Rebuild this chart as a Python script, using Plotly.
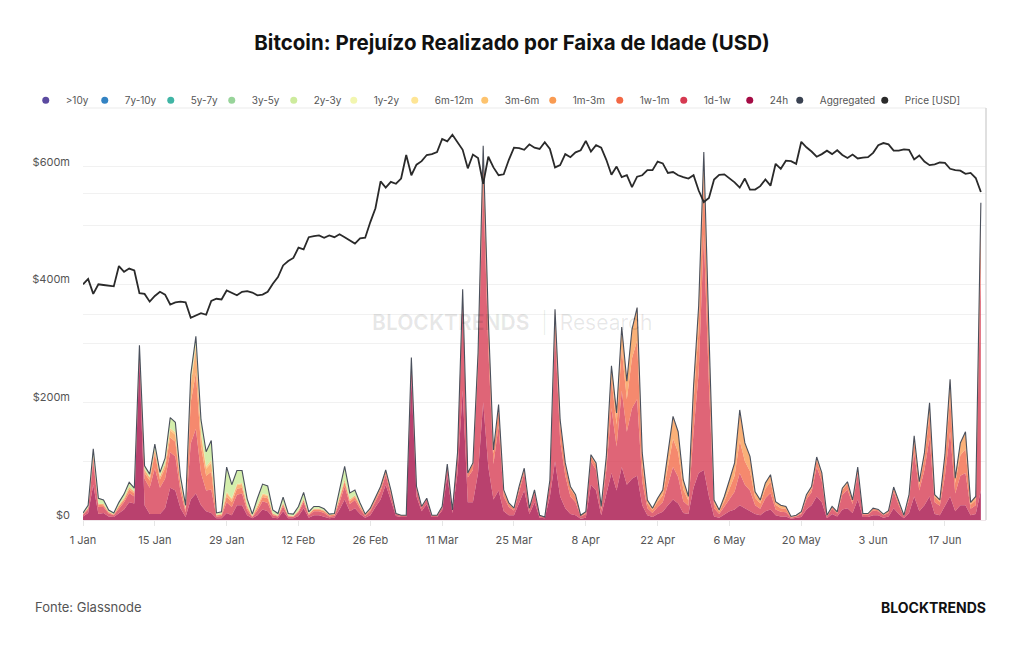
import plotly.graph_objects as go
import pandas as pd

# ---------------- data ----------------
dates = pd.date_range("2024-01-01", "2024-06-24", freq="D")

# BTC price, thousands of USD
price_k = [
    44.2, 45.0, 42.8, 44.2, 44.1, 44.0, 43.9, 47.0, 46.1, 46.6, 46.3, 42.9, 42.8, 41.7, 42.5, 43.1,
    42.7, 41.3, 41.6, 41.7, 41.6, 39.5, 39.8, 40.1, 39.9, 41.8, 42.1, 42.0, 43.3, 42.9, 42.6,
    43.1, 43.2, 43.0, 42.6, 42.7, 43.1, 44.3, 45.3, 47.1, 47.8, 48.3, 50.0, 49.7, 51.8, 52.0,
    52.1, 51.7, 52.1, 51.8, 52.3, 51.8, 51.3, 50.7, 51.6, 51.7, 54.5, 57.1, 62.5, 61.2,
    62.4, 62.0, 63.1, 68.3, 63.8, 66.1, 66.9, 68.3, 68.5, 69.0, 72.1, 71.5, 73.1, 71.4, 69.5,
    65.3, 68.4, 67.6, 62.0, 67.9, 65.5, 63.8, 64.0, 67.2, 70.0, 69.9, 69.5, 70.8, 70.0, 69.7, 71.3,
    69.7, 65.5, 66.0, 68.5, 67.8, 68.9, 69.4, 71.6, 69.1, 70.6, 70.0, 67.2, 63.9, 65.7, 63.4,
    63.8, 61.3, 63.5, 63.8, 64.9, 64.9, 66.8, 66.4, 64.3, 64.5, 63.8, 63.4, 63.1, 63.8, 60.6,
    58.3, 59.1, 62.9, 63.9, 64.0, 63.2, 62.3, 61.2, 63.1, 60.8, 60.8, 61.5, 62.9, 61.6, 66.3,
    65.2, 67.0, 66.9, 66.3, 71.4, 70.1, 69.1, 67.9, 68.5, 69.3, 68.5, 69.4, 68.3, 67.6, 68.4, 67.5,
    67.7, 67.8, 68.8, 70.6, 71.1, 70.8, 69.3, 69.3, 69.6, 69.5, 67.3, 68.2, 66.8, 66.0, 66.2,
    66.6, 66.5, 65.2, 64.9, 64.8, 64.1, 64.3, 63.2, 60.3,
]

# realized loss by age band, millions of USD
loss_24h = [
    6, 12, 60, 10, 12, 6, 5, 12, 18, 30,
    28, 270, 25, 10, 10, 10, 20, 55, 50, 20,
    5, 35, 45, 25, 15, 12, 3, 3, 12, 8,
    25, 25, 8, 3, 8, 18, 15, 4, 3, 15,
    3, 3, 7, 20, 4, 8, 8, 6, 3, 4,
    18, 35, 15, 20, 10, 4, 8, 22, 35, 60,
    35, 7, 5, 5, 240, 40, 15, 27, 5, 5,
    16, 75, 12, 80, 220, 30, 30, 80, 200, 90,
    35, 50, 15, 8, 8, 30, 50, 10, 30, 4,
    3, 40, 100, 40, 20, 10, 8, 2, 4, 60,
    50, 8, 45, 80, 50, 90, 60, 70, 75, 25,
    8, 5, 10, 14, 25, 35, 28, 12, 10, 55,
    80, 85, 40, 6, 4, 10, 15, 18, 25, 20,
    15, 10, 8, 15, 18, 8, 6, 6, 2, 3,
    5, 18, 25, 40, 30, 3, 10, 6, 18, 20,
    12, 35, 5, 5, 8, 8, 4, 6, 20, 10,
    3, 12, 40, 15, 25, 40, 10, 8, 25, 40,
    15, 25, 25, 8, 10, 50,
]
loss_1d_1w = [
    3, 6, 40, 12, 10, 5, 3, 8, 12, 16,
    12, 17, 45, 45, 78, 45, 50, 60, 58, 28,
    8, 95, 110, 55, 35, 40, 3, 4, 18, 14,
    18, 20, 8, 2, 8, 14, 14, 4, 3, 8,
    3, 2, 6, 10, 4, 7, 7, 6, 3, 3,
    12, 22, 12, 14, 9, 3, 7, 10, 14, 17,
    10, 3, 2, 2, 30, 13, 6, 8, 2, 2,
    5, 16, 4, 28, 160, 42, 55, 180, 370, 200,
    60, 110, 25, 14, 8, 20, 30, 7, 16, 3,
    2, 22, 220, 95, 55, 30, 22, 4, 6, 40,
    35, 9, 40, 110, 75, 130, 90, 120, 130, 40,
    12, 7, 12, 16, 35, 55, 45, 20, 14, 95,
    170, 400, 190, 14, 6, 12, 20, 30, 55, 40,
    35, 15, 11, 22, 28, 10, 8, 7, 2, 3,
    5, 17, 22, 50, 36, 3, 9, 5, 25, 32,
    15, 43, 4, 4, 8, 7, 4, 6, 28, 15,
    3, 22, 75, 35, 60, 100, 20, 16, 50, 110,
    30, 50, 55, 11, 15, 390,
]
loss_1w_1m = [
    1, 2, 8, 4, 3, 2, 1, 3, 4, 6,
    5, 4, 10, 12, 25, 14, 18, 25, 25, 12,
    5, 70, 95, 45, 25, 30, 2, 2, 10, 8,
    10, 10, 5, 1, 5, 7, 8, 2, 1, 4,
    1, 1, 2, 4, 2, 3, 3, 3, 2, 2,
    6, 8, 5, 5, 4, 2, 3, 5, 5, 5,
    4, 1, 1, 1, 5, 3, 2, 2, 1, 1,
    2, 3, 1, 5, 10, 7, 10, 20, 50, 40,
    18, 28, 8, 5, 3, 5, 6, 2, 4, 1,
    0, 5, 30, 28, 17, 13, 10, 2, 3, 8,
    9, 4, 15, 50, 37, 70, 55, 85, 100, 30,
    8, 5, 9, 12, 30, 48, 42, 20, 9, 50,
    75, 100, 60, 8, 4, 10, 18, 27, 55, 40,
    33, 13, 9, 16, 19, 8, 6, 6, 1, 1,
    2, 5, 6, 12, 10, 1, 3, 2, 8, 9,
    5, 9, 1, 1, 3, 2, 1, 3, 6, 4,
    1, 6, 20, 10, 20, 40, 9, 7, 25, 60,
    18, 35, 40, 7, 9, 70,
]
loss_1m_3m = [
    0, 1, 3, 2, 2, 1, 1, 2, 3, 4,
    3, 2, 6, 5, 8, 5, 7, 12, 12, 5,
    2, 30, 42, 20, 12, 15, 1, 1, 6, 5,
    6, 6, 3, 1, 3, 4, 4, 1, 1, 2,
    1, 1, 1, 2, 1, 1, 1, 1, 1, 1,
    3, 4, 3, 3, 2, 1, 2, 3, 3, 3,
    2, 0, 0, 0, 1, 1, 0, 0, 0, 0,
    0, 1, 0, 1, 2, 1, 2, 4, 16, 11,
    6, 8, 3, 2, 1, 2, 2, 1, 1, 0,
    0, 1, 8, 7, 5, 4, 3, 0, 1, 3,
    3, 2, 8, 22, 20, 38, 31, 49, 56, 19,
    6, 3, 6, 9, 24, 38, 35, 16, 7, 27,
    39, 40, 29, 6, 3, 8, 15, 22, 52, 31,
    25, 10, 6, 10, 12, 5, 5, 4, 1, 1,
    2, 3, 4, 5, 4, 1, 1, 1, 3, 4,
    2, 3, 1, 1, 1, 1, 1, 1, 2, 2,
    1, 3, 8, 5, 9, 19, 4, 3, 11, 29,
    8, 21, 30, 4, 6, 29,
]
loss_3m_6m = [
    0, 0, 0, 0, 0, 0, 0, 0, 0, 0,
    0, 0, 0, 0, 0, 0, 0, 4, 4, 0,
    0, 5, 8, 5, 4, 5, 0, 0, 2, 2,
    2, 2, 1, 0, 1, 2, 2, 0, 0, 0,
    0, 0, 0, 0, 0, 0, 0, 0, 0, 0,
    0, 0, 0, 0, 0, 0, 0, 0, 0, 0,
    0, 0, 0, 0, 0, 0, 0, 0, 0, 0,
    0, 0, 0, 0, 0, 0, 0, 0, 0, 0,
    0, 0, 0, 0, 0, 0, 0, 0, 0, 0,
    0, 0, 0, 0, 0, 0, 0, 0, 0, 0,
    0, 0, 0, 0, 0, 0, 0, 0, 0, 0,
    0, 0, 0, 0, 0, 0, 0, 0, 0, 0,
    0, 0, 0, 0, 0, 0, 0, 0, 0, 0,
    0, 0, 0, 0, 0, 0, 0, 0, 0, 0,
    0, 0, 0, 0, 0, 0, 0, 0, 0, 0,
    0, 0, 0, 0, 0, 0, 0, 0, 0, 0,
    0, 0, 0, 0, 0, 0, 0, 0, 0, 0,
    0, 0, 0, 0, 0, 0,
]
loss_2y_3y = [
    2, 4, 10, 9, 7, 3, 2, 5, 7, 8,
    6, 4, 6, 6, 8, 7, 10, 18, 17, 9,
    5, 12, 12, 20, 25, 33, 3, 4, 42, 23,
    23, 21, 11, 3, 12, 16, 15, 6, 3, 10,
    3, 3, 7, 11, 3, 4, 4, 3, 1, 1,
    12, 22, 11, 9, 4, 0, 0, 0, 0, 0,
    0, 0, 0, 0, 0, 0, 0, 0, 0, 0,
    0, 0, 0, 0, 0, 0, 0, 0, 0, 0,
    0, 0, 0, 0, 0, 0, 0, 0, 0, 0,
    0, 0, 0, 0, 0, 0, 0, 0, 0, 0,
    0, 0, 0, 0, 0, 0, 0, 0, 0, 0,
    0, 0, 0, 0, 0, 0, 0, 0, 0, 0,
    0, 0, 0, 0, 0, 0, 0, 0, 0, 0,
    0, 0, 0, 0, 0, 0, 0, 0, 0, 0,
    0, 0, 0, 0, 0, 0, 0, 0, 0, 0,
    0, 0, 0, 0, 0, 0, 0, 0, 0, 0,
    0, 0, 0, 0, 0, 0, 0, 0, 0, 0,
    0, 0, 0, 0, 0, 0,
]

legend_names = [">10y", "7y-10y", "5y-7y", "3y-5y", "2y-3y", "1y-2y", "6m-12m",
                "3m-6m", "1m-3m", "1w-1m", "1d-1w", "24h", "Aggregated", "Price [USD]"]
legend_colors = ["#5b4aa0", "#3383c3", "#40b5a5", "#98d49a", "#cdeb9d", "#f2f6b0", "#fee595",
                 "#fdc36e", "#f99b52", "#f26845", "#d63a51", "#a50c45", "#3a4252", "#2a2a2a"]
legend_widths = [14, 21, 16, 17, 15, 16, 25, 23, 22, 19, 21, 5, 40, 60]

y_tickvals = [0, 100, 200, 300, 400, 500, 600, 700]
y_ticktext = ["$0", "", "$200m", "", "$400m", "", "$600m", ""]

stack = [
    ("24h", loss_24h, "rgba(165,12,69,0.78)"),
    ("1d-1w", loss_1d_1w, "rgba(214,58,81,0.78)"),
    ("1w-1m", loss_1w_1m, "rgba(242,104,69,0.78)"),
    ("1m-3m", loss_1m_3m, "rgba(249,155,82,0.78)"),
    ("3m-6m", loss_3m_6m, "rgba(253,195,110,0.78)"),
    ("2y-3y", loss_2y_3y, "rgba(205,235,157,0.85)"),
]
aggregated = [sum(v) for v in zip(*[s[1] for s in stack])]

FONT = "Inter, Noto Sans, sans-serif"

fig = go.Figure()

# legend entries (circle symbols)
for name, col, lw in zip(legend_names, legend_colors, legend_widths):
    fig.add_trace(go.Scatter(
        x=[None], y=[None], mode="markers", name=name,
        marker=dict(color=col, size=7, symbol="circle"),
        legendwidth=lw, showlegend=True, hoverinfo="skip",
    ))

for name, vals, col in stack:
    fig.add_trace(go.Scatter(
        x=dates, y=vals, name=name, mode="lines", stackgroup="loss",
        line=dict(width=0, color=col), fillcolor=col, showlegend=False,
    ))

fig.add_trace(go.Scatter(
    x=dates, y=aggregated, name="Aggregated", mode="lines",
    line=dict(color="#4a505c", width=1.1), showlegend=False,
))

fig.add_trace(go.Scatter(
    x=dates, y=price_k, name="Price [USD]", mode="lines", yaxis="y2",
    line=dict(color="#2a2a2a", width=1.8), showlegend=False,
))

fig.update_layout(
    width=1024, height=645,
    margin=dict(l=83, r=38, t=108, b=125),
    paper_bgcolor="white", plot_bgcolor="white",
    font=dict(family=FONT, color="#555", size=11),
    title=dict(
        text="<b>Bitcoin: Prejuízo Realizado por Faixa de Idade (USD)</b>",
        x=0.5, xref="container", xanchor="center",
        y=1 - 43 / 645, yref="container", yanchor="middle",
        font=dict(family=FONT, size=20.5, color="#111"),
    ),
    legend=dict(
        orientation="h", x=-0.0634, xanchor="left", y=1.019, yanchor="middle",
        font=dict(family=FONT, size=10, color="#555"),
        bgcolor="rgba(0,0,0,0)", itemwidth=30, traceorder="normal",
    ),
    xaxis=dict(
        type="date", range=["2024-01-01", "2024-06-25"],
        tick0="2024-01-01", dtick=14 * 86400000, tickformat="%-d %b",
        showgrid=False, showline=True, linecolor="#efe6ea", linewidth=1,
        ticks="outside", ticklen=5, tickcolor="#e6e6e6",
        ticklabelstandoff=5,
        tickfont=dict(family=FONT, size=11, color="#555"),
        zeroline=False,
    ),
    yaxis=dict(
        range=[0, 700], tickvals=y_tickvals, ticktext=y_ticktext,
        showgrid=True, gridcolor="#f1f1f1", gridwidth=1,
        zeroline=False, showline=False, ticks="",
        ticklabelstandoff=12, ticklabelshift=-5,
        tickfont=dict(family=FONT, size=11, color="#555"),
    ),
    yaxis2=dict(
        type="log", range=[1.30103, 1.90309], overlaying="y", side="right",
        tickvals=[40, 60], showticklabels=False, showgrid=True,
        gridcolor="#f1f1f1", zeroline=False, showline=False, ticks="",
    ),
    showlegend=True,
    shapes=[
        dict(type="line", xref="paper", yref="paper", x0=0, x1=1, y0=1, y1=1,
             line=dict(color="#ebebeb", width=1)),
        dict(type="line", xref="paper", yref="paper", x0=1, x1=1, y0=0, y1=1,
             line=dict(color="#d6d6d6", width=1.5)),
    ],
    annotations=[
        dict(text="<b>BLOCKTRENDS</b>  <span style='font-weight:300'>|</span>  Research",
             xref="paper", yref="paper", x=(512 - 83) / 903, y=(520 - 322) / 412,
             xanchor="center", yanchor="middle", showarrow=False,
             font=dict(family=FONT, size=21, color="rgba(0,0,0,0.09)")),
        dict(text="Fonte: Glassnode", xref="paper", yref="paper",
             x=(33 - 83) / 903, y=(520 - 607) / 412, xanchor="left", yanchor="middle",
             showarrow=False, font=dict(family=FONT, size=13, color="#555")),
        dict(text="<b>BLOCKTRENDS</b>", xref="paper", yref="paper",
             x=(988 - 83) / 903, y=(520 - 607) / 412, xanchor="right", yanchor="middle",
             showarrow=False, font=dict(family=FONT, size=14, color="#111")),
    ],
)

fig.write_html("out.html")
